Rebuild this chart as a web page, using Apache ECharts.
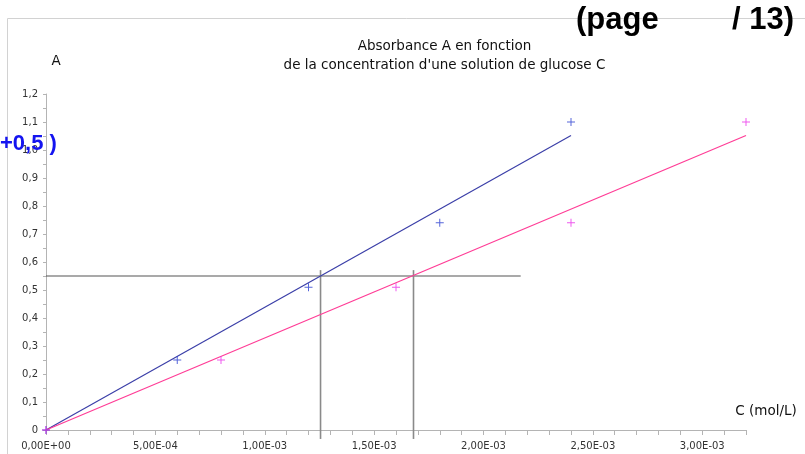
<!DOCTYPE html>
<html>
<head>
<meta charset="utf-8">
<script src="https://cdn.jsdelivr.net/npm/echarts@6/dist/echarts.min.js"></script>
<style>
  html, body { margin: 0; padding: 0; background: #fff; }
  #chart { width: 805px; height: 454px; }
</style>
</head>
<body>
<div id="chart"></div>
<script>
// Concentration of the two glucose solution series (mol/L)
const concBlue    = [0, 6.0e-4, 1.2e-3, 1.8e-3, 2.4e-3];
const concMagenta = [0, 8.0e-4, 1.6e-3, 2.4e-3, 3.2e-3];
// Measured absorbance A for each concentration
const absorbance  = [0, 0.25, 0.51, 0.74, 1.10];

// Graphical reading: A = 0.55 projected onto both calibration lines
const readA = 0.55;
const readC = [1.255e-3, 1.68e-3];
const readLineEndC = 2.17e-3;
const readTopA = 0.571;
const readBottomA = -0.032;

// Axis settings
const xMax = 3.2e-3, xStep = 1e-4;
const yMax = 1.2, yStep = 0.05;

// Least-squares slope of a line through the origin
function slopeThroughOrigin(xs, ys) {
  let sxy = 0, sxx = 0;
  xs.forEach((x, i) => { sxy += x * ys[i]; sxx += x * x; });
  return sxy / sxx;
}
const kBlue = slopeThroughOrigin(concBlue, absorbance);
const kMagenta = slopeThroughOrigin(concMagenta, absorbance);
const lastBlue = concBlue[concBlue.length - 1];
const lastMagenta = concMagenta[concMagenta.length - 1];

function pairs(xs, ys) { return xs.map((x, i) => [x, ys[i]]); }

function sciLabel(v) {
  const n = Math.round(v / xStep);
  if (n % 5 !== 0) return '';
  if (n === 0) return '0,00E+00';
  const s = (n * xStep).toExponential(2);        // e.g. "5.00e-4"
  const [mant, exp] = s.split('e');
  const e = parseInt(exp, 10);
  const sign = e < 0 ? '-' : '+';
  const digits = String(Math.abs(e)).padStart(2, '0');
  return mant.replace('.', ',') + 'E' + sign + digits;
}
function decLabel(v) {
  const n = Math.round(v / yStep);
  if (n % 2 !== 0) return '';
  if (n === 0) return '0';
  return (n * yStep).toFixed(1).replace('.', ',');
}

const plus = 'path://M0,3.5h8v1h-8z M3.5,0h1v8h-1z';
const axisGrey = '#b4b4b4';
const textFont = 'DejaVu Sans';

const chart = echarts.init(document.getElementById('chart'), null, { renderer: 'canvas' });
chart.setOption({
  animation: false,
  backgroundColor: '#ffffff',
  grid: { left: 46, right: 59, top: 94, bottom: 24, containLabel: false },
  xAxis: {
    type: 'value', min: 0, max: xMax, interval: xStep,
    axisLine: { lineStyle: { color: axisGrey, width: 1 } },
    axisTick: { show: true, length: 5, lineStyle: { color: axisGrey } },
    axisLabel: { formatter: sciLabel, color: '#333', fontFamily: textFont, fontSize: 10, margin: 11, showMaxLabel: true },
    splitLine: { show: false }
  },
  yAxis: {
    type: 'value', min: 0, max: yMax, interval: yStep,
    axisLine: { show: true, lineStyle: { color: axisGrey, width: 1 } },
    axisTick: { show: true, length: 3, lineStyle: { color: axisGrey } },
    axisLabel: { formatter: decLabel, color: '#333', fontFamily: textFont, fontSize: 10, margin: 8 },
    splitLine: { show: false }
  },
  series: [
    {
      name: 'lecture', type: 'line', clip: false, symbol: 'none', silent: true,
      lineStyle: { color: '#555', width: 1.2 },
      data: [[0, readA], [readLineEndC, readA]], z: 1
    },
    {
      name: 'lecture C1', type: 'line', clip: false, symbol: 'none', silent: true,
      lineStyle: { color: '#8a8a8a', width: 1.6 },
      data: [[readC[0], readTopA], [readC[0], readBottomA]], z: 1
    },
    {
      name: 'lecture C2', type: 'line', clip: false, symbol: 'none', silent: true,
      lineStyle: { color: '#8a8a8a', width: 1.6 },
      data: [[readC[1], readTopA], [readC[1], readBottomA]], z: 1
    },
    {
      name: 'droite bleue', type: 'line', symbol: 'none',
      lineStyle: { color: '#3b3fa8', width: 1.2 },
      data: [[0, 0], [lastBlue, kBlue * lastBlue]], z: 2
    },
    {
      name: 'droite rose', type: 'line', symbol: 'none',
      lineStyle: { color: '#ff3c96', width: 1.2 },
      data: [[0, 0], [lastMagenta, kMagenta * lastMagenta]], z: 2
    },
    {
      name: 'mesures bleues', type: 'scatter', symbol: plus, symbolSize: 8,
      itemStyle: { color: '#2b3fd0' },
      data: pairs(concBlue, absorbance), z: 3
    },
    {
      name: 'mesures roses', type: 'scatter', symbol: plus, symbolSize: 8,
      itemStyle: { color: '#ea30ea' },
      data: pairs(concMagenta, absorbance), z: 4
    }
  ],
  graphic: [
    { type: 'line', shape: { x1: 7.5, y1: 18.5, x2: 805, y2: 18.5 }, style: { stroke: '#d2d2d2', lineWidth: 1 }, z: 0 },
    { type: 'line', shape: { x1: 7.5, y1: 18.5, x2: 7.5, y2: 454 }, style: { stroke: '#d2d2d2', lineWidth: 1 }, z: 0 },
    { type: 'text', x: 444.5, y: 46, style: { text: 'Absorbance A en fonction', align: 'center', verticalAlign: 'middle', fontFamily: textFont, fontSize: 13.5, fill: '#111' } },
    { type: 'text', x: 444.5, y: 65, style: { text: "de la concentration d'une solution de glucose C", align: 'center', verticalAlign: 'middle', fontFamily: textFont, fontSize: 13.5, fill: '#111' } },
    { type: 'text', x: 56, y: 61, style: { text: 'A', align: 'center', verticalAlign: 'middle', fontFamily: textFont, fontSize: 13.5, fill: '#111' } },
    { type: 'text', x: 766, y: 411, style: { text: 'C (mol/L)', align: 'center', verticalAlign: 'middle', fontFamily: textFont, fontSize: 13.5, fill: '#111' } },
    { type: 'text', x: 576, y: 20, style: { text: '(page', align: 'left', verticalAlign: 'middle', fontFamily: 'Liberation Sans', fontWeight: 'bold', fontSize: 31, fill: '#000' }, z: 10 },
    { type: 'text', x: 794, y: 20, style: { text: '/ 13)', align: 'right', verticalAlign: 'middle', fontFamily: 'Liberation Sans', fontWeight: 'bold', fontSize: 31, fill: '#000' }, z: 10 },
    { type: 'text', x: 0, y: 144, style: { text: '+0,5 )', align: 'left', verticalAlign: 'middle', fontFamily: 'Liberation Sans', fontWeight: 'bold', fontSize: 22, fill: '#1414f0' }, z: 10 }
  ]
});
</script>
</body>
</html>
